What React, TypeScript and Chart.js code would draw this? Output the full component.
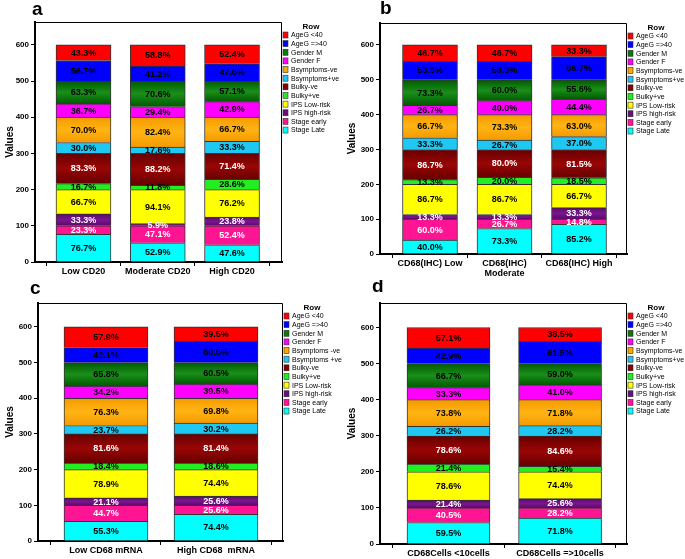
import React, { useEffect, useRef } from 'react';
import { Chart, registerables } from 'chart.js';

Chart.register(...registerables);

const FONT = "'Liberation Sans', Arial, sans-serif";

// Stack order, bottom to top
const SERIES_NAMES = [
  'Stage Late', 'Stage early', 'IPS high-risk', 'IPS Low-risk', 'Bulky+ve', 'Bulky-ve',
  'Bsymptoms+ve', 'Bsymptoms-ve', 'Gender F', 'Gender M', 'AgeG =>40', 'AgeG <40',
];
const SERIES_NAMES_C = [
  'Stage Late', 'Stage early', 'IPS high-risk', 'IPS Low-risk', 'Bulky+ve', 'Bulky-ve',
  'Bsymptoms +ve', 'Bsymptoms -ve', 'Gender F', 'Gender M', 'AgeG =>40', 'AgeG <40',
];
const SERIES_COLORS = [
  '#00FFFF', '#FF1493', '#6A0D7E', '#FFFF00', '#22EE22', '#800000',
  '#1EC8F2', '#FFA800', '#FF00FF', '#0A7A0A', '#0000FF', '#FF0000',
];
// [edge, centre] shading for the glossy segments (null = flat)
const SERIES_SHADE: (string[] | null)[] = [
  null, null, ['#5a0a6a', '#7a1590'], null, null, ['#660000', '#9a0505'],
  null, ['#F59A00', '#FFB414'], null, ['#005a00', '#1a8f1a'], null, null,
];
const WHITE_LABEL = [false, true, true, false, false, true, false, false, false, false, false, false];

const Y_TICKS = [0, 100, 200, 300, 400, 500, 600];

// Panel a
const A_CATEGORIES = ['Low CD20', 'Moderate CD20', 'High CD20'];
const A_VALUES = [
  [76.7, 52.9, 47.6], // Stage Late
  [23.3, 47.1, 52.4], // Stage early
  [33.3, 5.9, 23.8], // IPS high-risk
  [66.7, 94.1, 76.2], // IPS Low-risk
  [16.7, 11.8, 28.6], // Bulky+ve
  [83.3, 88.2, 71.4], // Bulky-ve
  [30.0, 17.6, 33.3], // Bsymptoms+ve
  [70.0, 82.4, 66.7], // Bsymptoms-ve
  [36.7, 29.4, 42.9], // Gender F
  [63.3, 70.6, 57.1], // Gender M
  [56.7, 41.2, 47.6], // AgeG =>40
  [43.3, 58.8, 52.4], // AgeG <40
];

// Panel b
const B_CATEGORIES: (string | string[])[] = ['CD68(IHC) Low', ['CD68(IHC)', 'Moderate'], 'CD68(IHC) High'];
const B_VALUES = [
  [40.0, 73.3, 85.2],
  [60.0, 26.7, 14.8],
  [13.3, 13.3, 33.3],
  [86.7, 86.7, 66.7],
  [13.3, 20.0, 18.5],
  [86.7, 80.0, 81.5],
  [33.3, 26.7, 37.0],
  [66.7, 73.3, 63.0],
  [26.7, 40.0, 44.4],
  [73.3, 60.0, 55.6],
  [53.3, 53.3, 66.7],
  [46.7, 46.7, 33.3],
];

// Panel c
const C_CATEGORIES = ['Low CD68 mRNA', 'High CD68  mRNA'];
const C_VALUES = [
  [55.3, 74.4],
  [44.7, 25.6],
  [21.1, 25.6],
  [78.9, 74.4],
  [18.4, 18.6],
  [81.6, 81.4],
  [23.7, 30.2],
  [76.3, 69.8],
  [34.2, 39.5],
  [65.8, 60.5],
  [42.1, 60.5],
  [57.9, 39.5],
];

// Panel d
const D_CATEGORIES = ['CD68Cells <10cells', 'CD68Cells =>10cells'];
const D_VALUES = [
  [59.5, 71.8],
  [40.5, 28.2],
  [21.4, 25.6],
  [78.6, 74.4],
  [21.4, 15.4],
  [78.6, 84.6],
  [26.2, 28.2],
  [73.8, 71.8],
  [33.3, 41.0],
  [66.7, 59.0],
  [42.9, 61.5],
  [57.1, 38.5],
];

type PanelProps = {
  letter: string;
  letterX: number;
  letterY: number;
  categories: (string | string[])[];
  values: number[][];
  names: string[];
  left: number;
  top: number;
  width: number;
  height: number;
  area: { l: number; r: number; t: number; b: number };
  xMin: number;
  xMax: number;
  yMax: number;
  barWidth: number;
};

function Panel(p: PanelProps) {
  const ref = useRef<HTMLCanvasElement>(null);

  useEffect(() => {
    if (!ref.current) return;

    const decor = {
      id: 'decor',
      afterDatasetsDraw(chart: any) {
        const ctx = chart.ctx;
        ctx.save();
        ctx.font = `bold 9px ${FONT}`;
        ctx.textAlign = 'center';
        ctx.textBaseline = 'middle';
        chart.data.datasets.forEach((ds: any, si: number) => {
          const meta = chart.getDatasetMeta(si);
          meta.data.forEach((el: any, ci: number) => {
            const { x, y, base } = el.getProps(['x', 'y', 'base'], true);
            const v = ds.data[ci].y as number;
            ctx.fillStyle = WHITE_LABEL[si] ? '#FFFFFF' : '#000000';
            ctx.fillText(v.toFixed(1) + '%', x, (y + base) / 2 + 0.5);
          });
        });
        ctx.restore();
      },
      afterDraw(chart: any) {
        const ctx = chart.ctx;
        const a = chart.chartArea;
        ctx.save();
        // frame top & right
        ctx.strokeStyle = '#000';
        ctx.lineWidth = 1;
        ctx.beginPath();
        ctx.moveTo(a.left, a.top + 0.5);
        ctx.lineTo(a.right - 0.5, a.top + 0.5);
        ctx.lineTo(a.right - 0.5, a.bottom);
        ctx.stroke();
        // letter
        ctx.fillStyle = '#000';
        ctx.font = `bold 19px ${FONT}`;
        ctx.textAlign = 'left';
        ctx.textBaseline = 'alphabetic';
        ctx.fillText(p.letter, p.letterX, p.letterY);
        // legend
        const lx = a.right + 1;
        ctx.font = `bold 8px ${FONT}`;
        ctx.textAlign = 'center';
        ctx.textBaseline = 'middle';
        ctx.fillText('Row', a.right + 29, a.top + 4.5);
        ctx.font = `7px ${FONT}`;
        ctx.textAlign = 'left';
        const n = p.names.length;
        for (let k = 0; k < n; k++) {
          const si = n - 1 - k;
          const y = a.top + 13 + k * 8.64;
          ctx.fillStyle = SERIES_COLORS[si];
          ctx.fillRect(lx, y - 3, 5, 6);
          ctx.strokeStyle = '#333';
          ctx.lineWidth = 0.6;
          ctx.strokeRect(lx, y - 3, 5, 6);
          ctx.fillStyle = '#000';
          ctx.fillText(p.names[si], lx + 8, y + 0.5);
        }
        ctx.restore();
      },
    };

    const fillFor = (si: number) => (c: any) => {
      const flat = SERIES_COLORS[si];
      const shade = SERIES_SHADE[si];
      if (!shade || c.type !== 'data') return flat;
      const ys = c.chart.scales && c.chart.scales.y;
      if (!ys || !isFinite(ys.getPixelForValue(0))) return flat;
      const ci = c.dataIndex;
      let cum = 0;
      for (let k = 0; k < si; k++) cum += p.values[k][ci];
      const yb = ys.getPixelForValue(cum);
      const yt = ys.getPixelForValue(cum + p.values[si][ci]);
      if (!isFinite(yb) || !isFinite(yt) || Math.abs(yb - yt) < 1) return flat;
      const g = c.chart.ctx.createLinearGradient(0, yt, 0, yb);
      g.addColorStop(0, shade[0]);
      g.addColorStop(0.5, shade[1]);
      g.addColorStop(1, shade[0]);
      return g;
    };

    const chart = new Chart(ref.current, {
      type: 'bar',
      data: {
        datasets: p.names.map((name, si) => ({
          label: name,
          data: p.values[si].map((v, ci) => ({ x: ci, y: v })),
          backgroundColor: fillFor(si),
          borderColor: '#333333',
          borderWidth: 1,
          barThickness: p.barWidth,
        })),
      },
      options: {
        responsive: false,
        animation: false,
        events: [],
        layout: {
          padding: { top: p.area.t, right: p.width - p.area.r, left: 0, bottom: 0 },
        },
        plugins: {
          legend: { display: false },
          tooltip: { enabled: false },
        },
        scales: {
          x: {
            type: 'linear',
            stacked: true,
            min: p.xMin,
            max: p.xMax,
            offset: false,
            afterBuildTicks: (s: any) => {
              s.ticks = p.categories.map((_, i) => ({ value: i }));
            },
            afterFit: (s: any) => {
              s.height = p.height - p.area.b;
            },
            ticks: {
              autoSkip: false,
              maxRotation: 0,
              padding: 1,
              color: '#000',
              font: { family: FONT, size: 9, weight: 'bold', lineHeight: 1.05 },
              callback: (v: any) => p.categories[Math.round(Number(v))] as any,
            },
            grid: { drawOnChartArea: false, drawTicks: true, tickLength: 4, color: '#000' },
            border: { display: true, color: '#000', width: 2 },
          },
          y: {
            type: 'linear',
            stacked: true,
            min: 0,
            max: p.yMax,
            afterBuildTicks: (s: any) => {
              s.ticks = Y_TICKS.map((v) => ({ value: v }));
            },
            afterFit: (s: any) => {
              s.width = p.area.l;
            },
            ticks: {
              padding: 2,
              color: '#000',
              font: { family: FONT, size: 8, weight: 'bold' },
            },
            grid: { drawOnChartArea: false, drawTicks: true, tickLength: 4, color: '#000' },
            border: { display: true, color: '#000', width: 2 },
            title: {
              display: true,
              text: 'Values',
              color: '#000',
              font: { family: FONT, size: 10, weight: 'bold' },
              padding: { top: 4, bottom: 0 },
            },
          },
        },
      } as any,
      plugins: [decor],
    });

    return () => chart.destroy();
  }, []);

  return (
    <canvas
      ref={ref}
      width={p.width}
      height={p.height}
      style={{ position: 'absolute', left: p.left, top: p.top, width: p.width, height: p.height }}
    />
  );
}

export default function App() {
  return (
    <div style={{ position: 'fixed', left: 0, top: 0, width: 685, height: 559, background: '#fff' }}>
      <Panel
        letter="a" letterX={32} letterY={15}
        categories={A_CATEGORIES} values={A_VALUES} names={SERIES_NAMES}
        left={0} top={0} width={342} height={280}
        area={{ l: 35, r: 282, t: 22, b: 262 }}
        xMin={-0.653} xMax={2.673} yMax={663} barWidth={55}
      />
      <Panel
        letter="b" letterX={38} letterY={14}
        categories={B_CATEGORIES} values={B_VALUES} names={SERIES_NAMES}
        left={342} top={0} width={343} height={280}
        area={{ l: 38, r: 285, t: 23, b: 254 }}
        xMin={-0.671} xMax={2.644} yMax={663} barWidth={55}
      />
      <Panel
        letter="c" letterX={30} letterY={14}
        categories={C_CATEGORIES} values={C_VALUES} names={SERIES_NAMES_C}
        left={0} top={280} width={342} height={279}
        area={{ l: 38, r: 283, t: 23, b: 261 }}
        xMin={-0.618} xMax={1.609} yMax={667} barWidth={84}
      />
      <Panel
        letter="d" letterX={30} letterY={12}
        categories={D_CATEGORIES} values={D_VALUES} names={SERIES_NAMES}
        left={342} top={280} width={343} height={279}
        area={{ l: 38, r: 285, t: 23, b: 264 }}
        xMin={-0.614} xMax={1.6} yMax={668} barWidth={83}
      />
    </div>
  );
}
